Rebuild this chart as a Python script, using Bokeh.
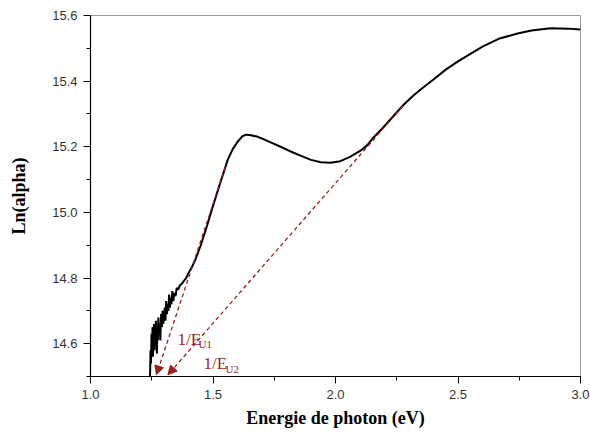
from bokeh.plotting import figure
from bokeh.models import Range1d, FixedTicker, NumeralTickFormatter, Arrow, NormalHead, Label
from bokeh.embed import file_html
from bokeh.resources import INLINE

# ---- data ----
energy = [1.243, 1.245, 1.247, 1.249, 1.251, 1.253, 1.255, 1.257, 1.259, 1.261,
          1.263, 1.265, 1.267, 1.269, 1.271, 1.273, 1.275, 1.277, 1.279, 1.282,
          1.285, 1.288, 1.291, 1.294, 1.297, 1.300, 1.303, 1.306, 1.309, 1.312,
          1.315, 1.318, 1.321, 1.324, 1.327, 1.330, 1.334, 1.338, 1.342, 1.347,
          1.352, 1.358, 1.365, 1.372, 1.380, 1.390, 1.400, 1.415, 1.429, 1.450,
          1.476, 1.500, 1.531, 1.560, 1.580, 1.600, 1.620, 1.635, 1.650, 1.680,
          1.710, 1.740, 1.776, 1.810, 1.857, 1.900, 1.940, 1.980, 2.020, 2.061,
          2.102, 2.130, 2.151, 2.190, 2.224, 2.278, 2.318, 2.350, 2.400, 2.450,
          2.500, 2.539, 2.600, 2.670, 2.743, 2.800, 2.878, 2.950, 3.000]
ln_alpha = [14.50, 14.58, 14.54, 14.63, 14.57, 14.65, 14.56, 14.61, 14.66, 14.58,
            14.64, 14.60, 14.67, 14.62, 14.57, 14.65, 14.61, 14.68, 14.63, 14.66,
            14.61, 14.69, 14.65, 14.70, 14.66, 14.68, 14.71, 14.67, 14.73, 14.69,
            14.72, 14.70, 14.75, 14.71, 14.74, 14.72, 14.76, 14.73, 14.755, 14.745,
            14.77, 14.765, 14.778, 14.782, 14.79, 14.80, 14.815, 14.835, 14.858, 14.90,
            14.96, 15.02, 15.093, 15.16, 15.192, 15.215, 15.232, 15.237, 15.236, 15.231,
            15.222, 15.212, 15.200, 15.188, 15.173, 15.160, 15.153, 15.151, 15.156, 15.170,
            15.188, 15.205, 15.225, 15.255, 15.283, 15.328, 15.356, 15.376, 15.405, 15.435,
            15.46, 15.478, 15.505, 15.53, 15.545, 15.554, 15.561, 15.56, 15.557]

y_ticks = [14.6, 14.8, 15.0, 15.2, 15.4, 15.6]
y_minor = [14.5, 14.7, 14.9, 15.1, 15.3, 15.5]
x_ticks = [1.0, 1.5, 2.0, 2.5, 3.0]
x_minor = [1.25, 1.75, 2.25, 2.75]

# tangent lines (start on curve, end = arrow tip on energy axis)
tan_x_start = [1.55, 2.275]
tan_y_start = [15.138, 15.324]
tan_x_end = [1.269, 1.316]
tan_y_end = [14.505, 14.505]

lab_main = ["1/E", "1/E"]
lab_sub = ["U1", "U2"]
lab_x = [1.355, 1.461]
lab_y = [14.614, 14.540]
sub_x = [1.441, 1.551]
sub_y = [14.598, 14.522]

DARKRED = "#9a1f1f"

p = figure(width=590, height=440, output_backend="svg", toolbar_location=None,
           x_range=Range1d(1.0, 3.0), y_range=Range1d(14.5, 15.6),
           min_border_left=90, min_border_right=10, min_border_top=15, min_border_bottom=64)
p.grid.visible = False
p.outline_line_color = "#9a9a9a"
p.outline_line_width = 1
p.background_fill_color = "white"
p.border_fill_color = "white"

p.line(energy, ln_alpha, line_color="black", line_width=2)

for i in range(2):
    p.add_layout(Arrow(x_start=tan_x_start[i], y_start=tan_y_start[i],
                       x_end=tan_x_end[i], y_end=tan_y_end[i],
                       line_color=DARKRED, line_width=1.3, line_dash="4 3",
                       end=NormalHead(size=9, fill_color=DARKRED, line_color=DARKRED)))
    p.add_layout(Label(x=lab_x[i], y=lab_y[i], text=lab_main[i], text_color=DARKRED,
                       text_font="Liberation Serif", text_font_size="17px",
                       text_baseline="alphabetic"))
    p.add_layout(Label(x=sub_x[i], y=sub_y[i], text=lab_sub[i], text_color=DARKRED,
                       text_font="Liberation Serif", text_font_size="11px",
                       text_baseline="alphabetic"))

p.xaxis.ticker = FixedTicker(ticks=x_ticks, minor_ticks=x_minor)
p.yaxis.ticker = FixedTicker(ticks=y_ticks, minor_ticks=y_minor)
p.xaxis.formatter = NumeralTickFormatter(format="0.0")
p.yaxis.formatter = NumeralTickFormatter(format="0.0")

for ax in (p.xaxis, p.yaxis):
    ax.axis_line_color = "black"
    ax.axis_line_width = 1.2
    ax.major_tick_line_color = "black"
    ax.minor_tick_line_color = "black"
    ax.major_tick_out = 7
    ax.major_tick_in = 0
    ax.minor_tick_out = 4
    ax.minor_tick_in = 0
    ax.major_label_text_font = "Liberation Sans"
    ax.major_label_text_font_size = "13px"
    ax.major_label_text_color = "#333333"
    ax.axis_label_text_font = "Liberation Serif"
    ax.axis_label_text_font_style = "bold"
    ax.axis_label_text_font_size = "18px"
    ax.axis_label_text_color = "black"

p.xaxis.axis_label = "Energie de photon (eV)"
p.yaxis.axis_label = "Ln(alpha)"
p.xaxis.major_label_standoff = 6
p.yaxis.major_label_standoff = 6
p.xaxis.axis_label_standoff = 6
p.yaxis.axis_label_standoff = 20

open("out.html", "w").write(file_html(p, INLINE))
